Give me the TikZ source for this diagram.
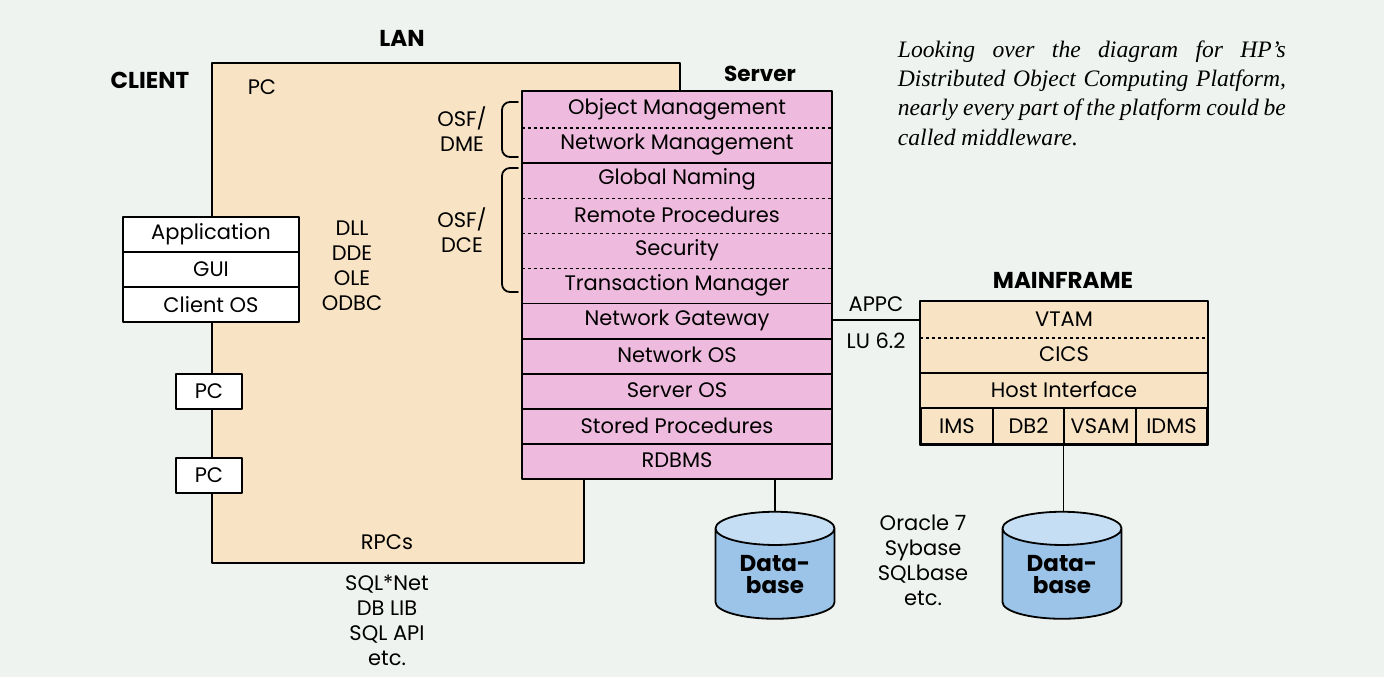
\documentclass[tikz,border=0pt]{standalone}
\usepackage{fontspec}
\setmainfont{Poppins}
\newfontfamily\capfont{Liberation Serif}
\usetikzlibrary{shapes.geometric}

\definecolor{bgcol}{RGB}{238,243,239}
\definecolor{lancol}{RGB}{248,228,196}
\definecolor{srvcol}{RGB}{238,186,222}
\definecolor{dbcol}{RGB}{156,196,232}
\definecolor{dbtop}{RGB}{198,222,243}

\newcommand\capline[1]{\makebox[194pt][s]{#1}}

\tikzset{
  txt/.style={inner sep=0pt,align=center,font=\fontsize{10.5}{12.5}\selectfont},
  headlab/.style={inner sep=0pt,font=\bfseries\fontsize{11.5}{13}\selectfont},
  layer/.style={txt,fill=srvcol,minimum width=154pt,minimum height=17.55pt},
  mfrow/.style={txt,fill=lancol,minimum width=143pt,minimum height=17.5pt},
  mfcell/.style={txt,draw,fill=lancol,minimum width=35.6pt,minimum height=18pt},
  cbox/.style={txt,draw,fill=white,minimum width=88pt,minimum height=17.5pt},
  pcbox/.style={txt,draw,fill=white,minimum width=33pt,minimum height=17.5pt},
  dotline/.style={line width=0.6pt,line cap=butt,dash pattern=on 1.6pt off 1.4pt},
  db/.style={cylinder,shape border rotate=90,aspect=0.47,draw,
    cylinder uses custom fill,cylinder body fill=dbcol,cylinder end fill=dbtop,
    minimum width=59.5pt,minimum height=53.5pt,inner sep=0pt,align=center,
    font=\bfseries\fontsize{11.5}{11}\selectfont}
}

\begin{document}
\begin{tikzpicture}[line cap=round,line join=round,line width=0.9pt,x=0.5pt,y=-0.5pt]
\fill[bgcol] (0,0) rectangle (1384,677);
\useasboundingbox (0,0) rectangle (1384,677);

% LAN area
\draw[fill=lancol] (212,63) -- (680,63) -- (680,200) -- (584,200) -- (584,563) -- (212,563) -- cycle;
\node[headlab] (lan) at (402,38) {LAN};
\node[headlab] (client) at (150,80) {CLIENT};
\node[txt] (pclab) at (262,87) {PC};

% client stack
\node[cbox] (app) at (211,234.5) {Application};
\node[cbox] (gui) at (211,269.5) {GUI};
\node[cbox] (cos) at (211,304.5) {Client OS};
\node[pcbox] (pc1) at (209,391.5) {PC};
\node[pcbox] (pc2) at (209,475.5) {PC};

\node[txt] (apis) at (352,265.5) {DLL\\DDE\\OLE\\ODBC};
\node[txt] (dme) at (462,129.5) {OSF/\\DME};
\node[txt] (dce) at (462,230.5) {OSF/\\DCE};
\node[txt] (rpc) at (387,542) {RPCs};
\node[txt] (sqlnet) at (387,620.5) {SQL*Net\\DB LIB\\SQL API\\etc.};

% server
\node[headlab,font=\bfseries\fontsize{10.8}{13}\selectfont] (srvlab) at (760,74) {Server};
\foreach \txt [count=\i] in {Object Management,Network Management,Global Naming,
  Remote Procedures,Security,Transaction Manager,Network Gateway,Network OS,
  Server OS,Stored Procedures,RDBMS}
  \node[layer] (s\i) at (677,{92+35.1*(\i-0.5)}) {\txt};
\foreach \i/\sep in {1/dotline,2/solid,3/dotline,4/dotline,5/dotline,6/solid,
  7/solid,8/solid,9/solid,10/solid}
  \draw[\sep] (s\i.south west) -- (s\i.south east);
\draw (s1.north west) rectangle (s11.south east);

% braces
\draw[rounded corners=4pt] (518,102) -- (502,102) -- (502,157) -- (518,157);
\draw[rounded corners=4pt] (518,168) -- (502,168) -- (502,292) -- (518,292);

% mainframe
\node[headlab] (mflab) at (1063,280) {MAINFRAME};
\node[mfrow] (m1) at (1064,319.5) {VTAM};
\node[mfrow] (m2) at (1064,354.5) {CICS};
\node[mfrow] (m3) at (1064,390) {Host Interface};
\node[mfcell] (ims) at (957,426) {IMS};
\node[mfcell] (db2) at (1028.5,426) {DB2};
\node[mfcell] (vsam) at (1100,426) {VSAM};
\node[mfcell] (idms) at (1171.5,426) {IDMS};
\draw[dotline] (m1.south west) -- (m1.south east);
\draw (m2.south west) -- (m2.south east);
\draw (m1.north west) rectangle (idms.south east);

% databases
\node[db] (dbs) at (775,574) {Data-\\base};
\node[db] (dbm) at (1062,574) {Data-\\base};
\node[txt] (dbms) at (923,560.5) {Oracle 7\\Sybase\\SQLbase\\etc.};

% links
\draw (s11.south -| dbs.north) -- (dbs.north);
\draw (vsam.south west) -- (vsam.south west |- dbm.north);
\draw (s7.east) -- (s7.east -| m1.west)
  node[txt,midway,above=4pt] (appc) {APPC}
  node[txt,midway,below=6pt] (lu) {LU 6.2};

% caption
\node[anchor=north west,inner sep=0pt,align=left,
  font=\capfont\itshape\fontsize{11.8}{14.6}\selectfont] (cap) at (897,40)
  {\capline{Looking over the diagram for HP’s}\\
   \capline{Distributed Object Computing Platform,}\\
   \capline{nearly every part of the platform could be}\\
   called middleware.};
\end{tikzpicture}
\end{document}
